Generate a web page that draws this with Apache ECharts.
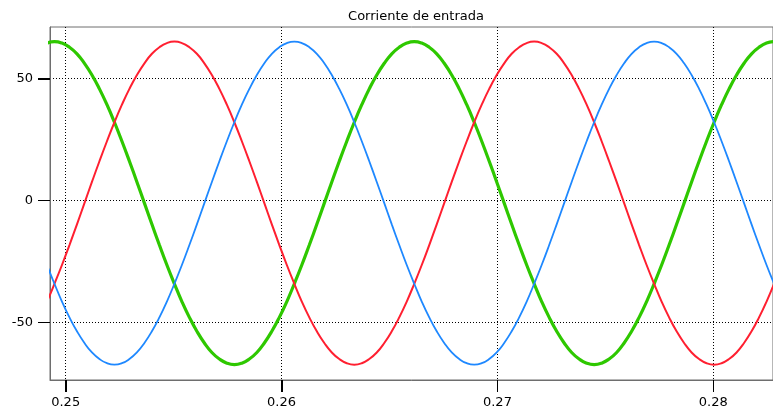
<!DOCTYPE html>
<html>
<head>
<meta charset="utf-8">
<script src="https://cdn.jsdelivr.net/npm/echarts@6/dist/echarts.min.js"></script>
<style>html,body{margin:0;padding:0;background:#fff}#c{width:773px;height:412px}</style>
</head>
<body>
<div id="c"></div>
<script>
var titleText = 'Corriente de entrada';
var xTicks = [0.25, 0.26, 0.27, 0.28];
var yTicks = [-50, 0, 50];
var xMin = 0.249273, xMax = 0.282765;
var yMin = -73.7, yMax = 71.2;
var times = [0.248786,0.249133,0.249480,0.249827,0.250174,0.250522,0.250869,0.251216,0.251563,0.251911,
  0.252258,0.252605,0.252952,0.253299,0.253647,0.253994,0.254341,0.254688,0.255036,0.255383,
  0.255730,0.256077,0.256424,0.256772,0.257119,0.257466,0.257813,0.258160,0.258508,0.258855,
  0.259202,0.259549,0.259897,0.260244,0.260591,0.260938,0.261285,0.261633,0.261980,0.262327,
  0.262674,0.263022,0.263369,0.263716,0.264063,0.264410,0.264758,0.265105,0.265452,0.265799,
  0.266147,0.266494,0.266841,0.267188,0.267535,0.267883,0.268230,0.268577,0.268924,0.269272,
  0.269619,0.269966,0.270313,0.270660,0.271008,0.271355,0.271702,0.272049,0.272397,0.272744,
  0.273091,0.273438,0.273785,0.274133,0.274480,0.274827,0.275174,0.275522,0.275869,0.276216,
  0.276563,0.276910,0.277258,0.277605,0.277952,0.278299,0.278647,0.278994,0.279341,0.279688,
  0.280036,0.280383,0.280730,0.281077,0.281424,0.281772,0.282119,0.282466,0.282813];
var green = [62.9,64.6,
  65.2,64.6,62.9,60.2,56.3,51.5,45.8,39.3,32.1,24.3,16.1,7.6,-1.1,-9.8,-18.3,-26.5,-34.2,-41.5,-48.0,-53.7,-58.5,-62.4,-65.1,-66.8,
  -67.4,-66.8,-65.1,-62.4,-58.5,-53.7,-48.0,-41.5,-34.2,-26.5,-18.3,-9.8,-1.1,7.6,16.1,24.3,32.1,39.3,45.8,51.5,56.3,60.2,62.9,64.6,
  65.2,64.6,62.9,60.2,56.3,51.5,45.8,39.3,32.1,24.3,16.1,7.6,-1.1,-9.8,-18.3,-26.5,-34.2,-41.5,-48.0,-53.7,-58.5,-62.4,-65.1,-66.8,
  -67.4,-66.8,-65.1,-62.4,-58.5,-53.7,-48.0,-41.5,-34.2,-26.5,-18.3,-9.8,-1.1,7.6,16.1,24.3,32.1,39.3,45.8,51.5,56.3,60.2,62.9,64.6,
  65.2];
var red = [-48.0,-41.5,-34.2,-26.5,-18.3,-9.8,-1.1,7.6,16.1,24.3,32.1,39.3,45.8,51.5,56.3,60.2,62.9,64.6,
  65.2,64.6,62.9,60.2,56.3,51.5,45.8,39.3,32.1,24.3,16.1,7.6,-1.1,-9.8,-18.3,-26.5,-34.2,-41.5,-48.0,-53.7,-58.5,-62.4,-65.1,-66.8,
  -67.4,-66.8,-65.1,-62.4,-58.5,-53.7,-48.0,-41.5,-34.2,-26.5,-18.3,-9.8,-1.1,7.6,16.1,24.3,32.1,39.3,45.8,51.5,56.3,60.2,62.9,64.6,
  65.2,64.6,62.9,60.2,56.3,51.5,45.8,39.3,32.1,24.3,16.1,7.6,-1.1,-9.8,-18.3,-26.5,-34.2,-41.5,-48.0,-53.7,-58.5,-62.4,-65.1,-66.8,
  -67.4,-66.8,-65.1,-62.4,-58.5,-53.7,-48.0,-41.5,-34.2];
var blue = [-18.3,-26.5,-34.2,-41.5,-48.0,-53.7,-58.5,-62.4,-65.1,-66.8,
  -67.4,-66.8,-65.1,-62.4,-58.5,-53.7,-48.0,-41.5,-34.2,-26.5,-18.3,-9.8,-1.1,7.6,16.1,24.3,32.1,39.3,45.8,51.5,56.3,60.2,62.9,64.6,
  65.2,64.6,62.9,60.2,56.3,51.5,45.8,39.3,32.1,24.3,16.1,7.6,-1.1,-9.8,-18.3,-26.5,-34.2,-41.5,-48.0,-53.7,-58.5,-62.4,-65.1,-66.8,
  -67.4,-66.8,-65.1,-62.4,-58.5,-53.7,-48.0,-41.5,-34.2,-26.5,-18.3,-9.8,-1.1,7.6,16.1,24.3,32.1,39.3,45.8,51.5,56.3,60.2,62.9,64.6,
  65.2,64.6,62.9,60.2,56.3,51.5,45.8,39.3,32.1,24.3,16.1,7.6,-1.1,-9.8,-18.3,-26.5,-34.2];

function pairs(vals){ return times.map(function(t,i){ return [t, vals[i]]; }); }

var chart = echarts.init(document.getElementById('c'), null, {renderer:'canvas'});
var font = 'DejaVu Sans';
chart.setOption({
  animation: false,
  backgroundColor: '#fff',
  title: {text: titleText, left: 411, textAlign: 'center', top: 5,
    textStyle: {fontFamily: font, fontSize: 13, fontWeight: 'normal', color: '#000'}},
  grid: {left: 50, right: 0, top: 27, bottom: 32, show: true, borderColor: '#6e6e6e', borderWidth: 1, backgroundColor: 'transparent'},
  xAxis: {type: 'value', min: xMin, max: xMax,
    axisLine: {show: true, onZero: false, lineStyle: {color: '#6e6e6e', width: 1}},
    axisTick: {show: true, length: 12, customValues: xTicks, lineStyle: {color: '#000', width: 1}},
    axisLabel: {customValues: xTicks, margin: 16, color: '#000', fontFamily: font, fontSize: 13,
      formatter: function(v){ return String(v); }},
    splitLine: {show: true, lineStyle: {color: '#000', width: 1, type: [1, 2]}}},
  yAxis: {type: 'value', min: yMin, max: yMax,
    axisLine: {show: true, onZero: false, lineStyle: {color: '#6e6e6e', width: 1}},
    axisTick: {show: true, length: 12, customValues: yTicks, lineStyle: {color: '#000', width: 1}},
    axisLabel: {customValues: yTicks, margin: 17, color: '#000', fontFamily: font, fontSize: 13},
    splitLine: {show: true, lineStyle: {color: '#000', width: 1, type: [1, 2]}}},
  series: [
    {type: 'line', data: pairs(green), smooth: true, showSymbol: false, clip: true,
      lineStyle: {color: '#2ec800', width: 3.2}},
    {type: 'line', data: pairs(red), smooth: true, showSymbol: false, clip: true,
      lineStyle: {color: '#ff1f30', width: 2}},
    {type: 'line', data: pairs(blue), smooth: true, showSymbol: false, clip: true,
      lineStyle: {color: '#1e88ff', width: 1.8}}
  ]
});

// axis tick marks, positioned through the axes' own scales
var tickLen = 12;
var bottomY = chart.convertToPixel({yAxisIndex: 0}, yMin);
var leftX = chart.convertToPixel({xAxisIndex: 0}, xMin);
var tickGraphics = [];
xTicks.forEach(function(v){
  var px = Math.round(chart.convertToPixel({xAxisIndex: 0}, v)) + 0.5;
  tickGraphics.push({type: 'line', silent: true, z: 10,
    shape: {x1: px, y1: bottomY, x2: px, y2: bottomY + tickLen},
    style: {stroke: '#000', lineWidth: 1}});
});
yTicks.forEach(function(v){
  var py = Math.round(chart.convertToPixel({yAxisIndex: 0}, v)) + 0.5;
  tickGraphics.push({type: 'line', silent: true, z: 10,
    shape: {x1: leftX - tickLen, y1: py, x2: leftX, y2: py},
    style: {stroke: '#000', lineWidth: 1}});
});
chart.setOption({graphic: tickGraphics});
</script>
</body>
</html>
